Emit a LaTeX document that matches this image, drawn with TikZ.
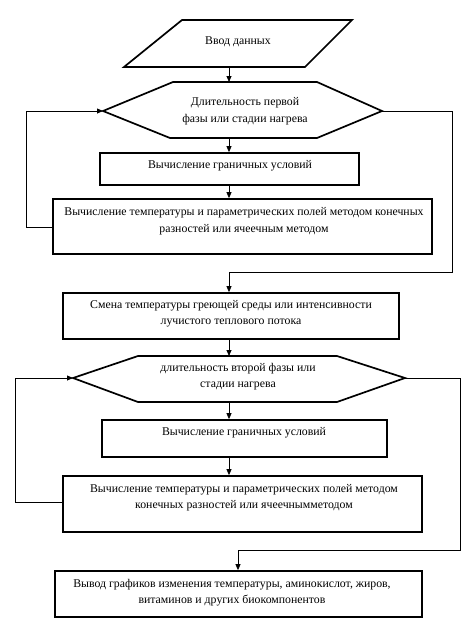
\documentclass[tikz,border=0pt]{standalone}
\usepackage{fontspec}
\setmainfont{Liberation Serif}
\usetikzlibrary{arrows.meta}
\begin{document}
\begin{tikzpicture}[x=1pt,y=-1pt,
  shapeline/.style={line width=1.7pt, line join=miter},
  box/.style={draw, line width=1.7pt, rectangle, inner sep=0pt},
  txt/.style={font=\fontsize{11.8}{16.5}\selectfont, align=center, inner sep=0pt},
  conn/.style={line width=0.8pt},
  arr/.style={conn, -{Triangle[length=6pt,width=5pt]}}]
\useasboundingbox (0,0) rectangle (474,619);
% parallelogram
\draw[shapeline] (182,20) -- (352,20) -- (305,67) -- (124,67) -- cycle;
\node[txt] (inp) at (238,42) {Ввод данных};
\coordinate (inpS) at (229,67);
% hexagon 1
\draw[shapeline] (103,111) -- (173,82) -- (317,82) -- (382,111) -- (317,138) -- (170,138) -- cycle;
\coordinate (h1N) at (229,82);
\coordinate (h1S) at (229,138);
\coordinate (h1L) at (103,111);
\coordinate (h1R) at (382,111);
\node[txt] (h1) at (245,111) {Длительность первой\\фазы или стадии нагрева};
% box 1
\node[box, minimum width=259pt, minimum height=32pt] (b1) at (229.5,169) {};
\node[txt] (t1) at (230,166) {Вычисление граничных условий};
% box 2
\node[box, minimum width=379pt, minimum height=55pt] (b2) at (242.5,226.5) {};
\node[txt] (t2) at (244,221) {Вычисление температуры и параметрических полей методом конечных\\разностей или ячеечным методом};
% box 3
\node[box, minimum width=336pt, minimum height=46pt] (b3) at (231,316) {};
\node[txt] (t3) at (231,313.5) {Смена температуры греющей среды или интенсивности\\лучистого теплового потока};
% hexagon 2
\draw[shapeline] (73,378) -- (138,356) -- (337,356) -- (405,378) -- (337,402) -- (138,402) -- cycle;
\coordinate (h2N) at (229,356);
\coordinate (h2S) at (229,402);
\coordinate (h2L) at (73,378);
\coordinate (h2R) at (405,378);
\node[txt] (h2) at (238,376.5) {длительность второй фазы или\\стадии нагрева};
% box 4
\node[box, minimum width=285pt, minimum height=37pt] (b4) at (244.5,438.5) {};
\node[txt] (t4) at (244,433) {Вычисление граничных условий};
% box 5
\node[box, minimum width=359pt, minimum height=56pt] (b5) at (242.5,504) {};
\node[txt] (t5) at (244,497.5) {Вычисление температуры и параметрических полей методом\\конечных разностей или ячеечнымметодом};
% box 6
\node[box, minimum width=367pt, minimum height=46pt] (b6) at (238.5,594) {};
\node[txt] (t6) at (232,592.5) {Вывод графиков изменения температуры, аминокислот, жиров,\\витаминов и других биокомпонентов};
% helper x
\coordinate (ax) at (229,0);
\coordinate (bx) at (238,0);
% connectors
\draw[arr] (inpS) -- (h1N);
\draw[arr] (h1S) -- (b1.north -| ax);
\draw[arr] (b1.south -| ax) -- (b2.north -| ax);
\coordinate (l1a) at (26,227);
\draw[arr] (b2.west |- l1a) -- (l1a) -- (l1a |- h1L) -- (h1L);
\coordinate (r1a) at (452,272);
\draw[arr] (h1R) -- (r1a |- h1R) -- (r1a) -- (r1a -| ax) -- (b3.north -| ax);
\draw[arr] (b3.south -| ax) -- (h2N);
\draw[arr] (h2S) -- (b4.north -| ax);
\draw[arr] (b4.south -| ax) -- (b5.north -| ax);
\coordinate (l2a) at (15,502);
\draw[arr] (b5.west |- l2a) -- (l2a) -- (l2a |- h2L) -- (h2L);
\coordinate (r2a) at (460,550);
\draw[arr] (h2R) -- (r2a |- h2R) -- (r2a) -- (r2a -| bx) -- (b6.north -| bx);
\end{tikzpicture}
\end{document}
